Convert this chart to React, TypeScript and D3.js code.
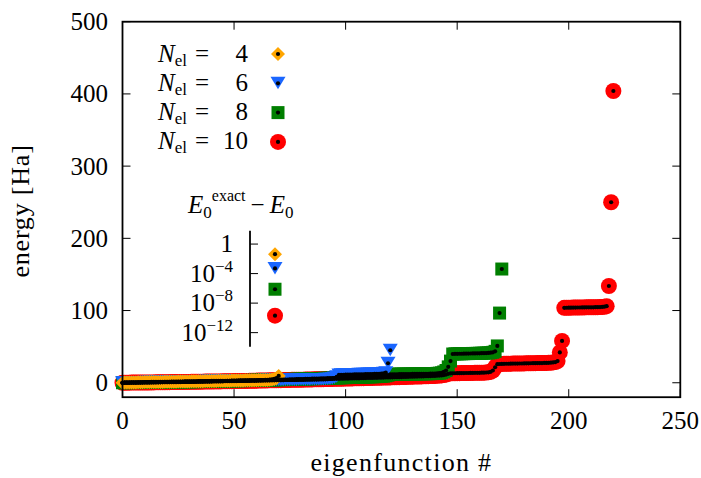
import React from "react";
import * as d3 from "d3";

// sorted eigenvalues (Ha) per electron count, index = eigenfunction #
const nel4 = [
  0.0, 0.2, 0.2, 0.2, 0.5, 0.5, 0.5, 0.7, 0.7, 0.7,
  0.9, 0.9, 0.9, 1.1, 1.1, 1.1, 1.2, 1.2, 1.2, 1.4,
  1.4, 1.4, 1.5, 1.5, 1.5, 1.7, 1.7, 1.7, 1.9, 1.9,
  1.9, 2.0, 2.0, 2.0, 2.2, 2.2, 2.2, 2.3, 2.3, 2.3,
  2.5, 2.5, 2.5, 2.7, 2.7, 2.7, 2.8, 2.8, 2.8, 3.0,
  3.0, 3.0, 3.2, 3.2, 3.2, 3.3, 3.3, 3.3, 3.5, 3.5,
  3.5, 3.7, 3.7, 3.7, 3.9, 3.9, 4.2, 4.6, 5.3, 6.4,
  9.5,
];
const nel6 = [
  0.0, 0.2, 0.2, 0.2, 0.3, 0.3, 0.3, 0.5, 0.5, 0.5,
  0.6, 0.6, 0.6, 0.8, 0.8, 0.8, 0.9, 0.9, 0.9, 1.1,
  1.1, 1.1, 1.2, 1.2, 1.2, 1.4, 1.4, 1.4, 1.5, 1.5,
  1.5, 1.7, 1.7, 1.7, 1.8, 1.8, 1.8, 2.0, 2.0, 2.0,
  2.1, 2.1, 2.1, 2.3, 2.3, 2.3, 2.4, 2.4, 2.4, 2.6,
  2.6, 2.6, 2.7, 2.7, 2.7, 2.9, 2.9, 2.9, 3.0, 3.0,
  3.0, 3.2, 3.2, 3.2, 3.3, 3.3, 3.3, 3.5, 3.5, 3.5,
  3.6, 3.6, 3.6, 3.8, 3.8, 3.8, 3.9, 3.9, 3.9, 4.1,
  4.1, 4.1, 4.2, 4.2, 4.2, 4.4, 4.4, 4.4, 4.5, 4.5,
  4.6, 4.8, 5.0, 5.3, 5.7, 6.5, 8.2, 10.9, 11.1, 11.1,
  11.2, 11.3, 11.4, 11.4, 11.5, 11.6, 11.7, 11.7, 11.8, 11.9,
  12.0, 12.0, 12.1, 12.2, 12.3, 12.5, 12.8, 13.2, 14.0, 27.0,
  45.0,
];
const nel8 = [
  0.0, 0.1, 0.1, 0.1, 0.2, 0.2, 0.2, 0.3, 0.3, 0.4,
  0.4, 0.4, 0.5, 0.5, 0.6, 0.6, 0.6, 0.7, 0.7, 0.8,
  0.8, 0.9, 0.9, 1.0, 1.0, 1.1, 1.1, 1.2, 1.3, 1.3,
  1.4, 1.4, 1.5, 1.5, 1.6, 1.7, 1.7, 1.8, 1.9, 1.9,
  2.0, 2.1, 2.1, 2.2, 2.3, 2.3, 2.4, 2.5, 2.5, 2.6,
  2.7, 2.7, 2.8, 2.9, 3.0, 3.0, 3.1, 3.2, 3.3, 3.3,
  3.4, 3.5, 3.6, 3.6, 3.7, 3.8, 3.9, 4.0, 4.0, 4.1,
  4.2, 4.3, 4.4, 4.4, 4.5, 4.6, 4.7, 4.8, 4.9, 5.0,
  5.1, 5.2, 5.3, 5.4, 5.5, 5.6, 5.7, 5.8, 5.9, 6.0,
  6.1, 6.2, 6.3, 6.4, 6.5, 6.6, 6.7, 6.8, 6.9, 7.0,
  7.1, 7.2, 7.3, 7.4, 7.5, 7.6, 7.7, 7.8, 7.9, 8.0,
  8.1, 8.2, 8.3, 8.4, 8.5, 8.7, 8.9, 9.2, 9.6, 10.5,
  11.6, 11.7, 11.8, 11.8, 11.9, 11.9, 12.0, 12.0, 12.1, 12.1,
  12.2, 12.2, 12.3, 12.3, 12.4, 12.4, 12.5, 12.5, 12.6, 12.7,
  12.8, 13.0, 13.3, 13.8, 15.0, 17.0, 22.0, 30.0, 39.8, 40.0,
  40.1, 40.2, 40.2, 40.3, 40.4, 40.4, 40.5, 40.6, 40.6, 40.7,
  40.8, 40.9, 41.0, 41.1, 41.3, 41.6, 42.2, 43.5, 51.0, 96.5,
  157.5,
];
const nel10 = [
  0.0, 0.1, 0.1, 0.1, 0.2, 0.2, 0.2, 0.3, 0.3, 0.3,
  0.4, 0.4, 0.4, 0.5, 0.5, 0.6, 0.6, 0.6, 0.7, 0.7,
  0.8, 0.8, 0.9, 0.9, 0.9, 1.0, 1.0, 1.1, 1.1, 1.2,
  1.2, 1.3, 1.3, 1.4, 1.4, 1.5, 1.5, 1.6, 1.6, 1.7,
  1.7, 1.8, 1.8, 1.9, 1.9, 2.0, 2.1, 2.1, 2.2, 2.2,
  2.3, 2.3, 2.4, 2.5, 2.5, 2.6, 2.6, 2.7, 2.8, 2.8,
  2.9, 3.0, 3.0, 3.1, 3.2, 3.2, 3.3, 3.4, 3.4, 3.5,
  3.6, 3.6, 3.7, 3.8, 3.8, 3.9, 4.0, 4.0, 4.1, 4.2,
  4.3, 4.3, 4.4, 4.5, 4.5, 4.6, 4.7, 4.8, 4.8, 4.9,
  5.0, 5.1, 5.1, 5.2, 5.3, 5.4, 5.4, 5.5, 5.6, 5.7,
  5.8, 5.8, 5.9, 6.0, 6.1, 6.2, 6.2, 6.3, 6.4, 6.5,
  6.6, 6.7, 6.7, 6.8, 6.9, 7.0, 7.1, 7.2, 7.3, 7.3,
  7.4, 7.5, 7.6, 7.7, 7.8, 7.9, 8.0, 8.1, 8.2, 8.3,
  8.4, 8.5, 8.6, 8.7, 8.8, 8.9, 9.0, 9.1, 9.2, 9.4,
  9.5, 9.7, 9.9, 10.2, 10.6, 11.3, 12.4, 13.0, 13.1, 13.2,
  13.3, 13.3, 13.4, 13.4, 13.5, 13.5, 13.6, 13.6, 13.7, 13.7,
  13.8, 13.9, 14.0, 14.2, 14.5, 15.2, 17.0, 21.5, 25.8, 26.0,
  26.1, 26.2, 26.3, 26.3, 26.4, 26.5, 26.5, 26.6, 26.7, 26.7,
  26.8, 26.9, 26.9, 27.0, 27.1, 27.1, 27.2, 27.3, 27.3, 27.4,
  27.5, 27.6, 27.8, 28.1, 28.7, 30.0, 42.0, 58.0, 103.8, 103.9,
  104.0, 104.0, 104.1, 104.1, 104.2, 104.2, 104.3, 104.3, 104.4, 104.4,
  104.5, 104.5, 104.6, 104.7, 104.8, 105.0, 105.3, 106.0, 134.0, 250.0,
  404.0,
];

const electronCounts = [4, 6, 8, 10];
// ground state error E0exact - E0 for each electron count
const insetErrors = [0.043, 5e-4, 7.6e-7, 2e-10];

const xTicks = [0, 50, 100, 150, 200, 250];
const yTicks = [0, 100, 200, 300, 400, 500];
const insetTicks = [1, 1e-4, 1e-8, 1e-12];
const insetTickLabels = [["1", ""], ["10", "−4"], ["10", "−8"], ["10", "−12"]];

const series = [
  { n: 4, values: nel4, color: "#ffa500", shape: "diamond" },
  { n: 6, values: nel6, color: "#1a66ff", shape: "triangle" },
  { n: 8, values: nel8, color: "#007f00", shape: "square" },
  { n: 10, values: nel10, color: "#ff0000", shape: "circle" },
];

const W = 701;
const H = 478;
const font = "'Liberation Serif', 'Times New Roman', serif";
const fs = 25;

const Marker = ({ shape, x, y, color }) => {
  if (shape === "circle") return <circle cx={x} cy={y} r={8} fill={color} />;
  let d = "";
  if (shape === "diamond") d = `M${x},${y - 7}L${x + 7},${y}L${x},${y + 7}L${x - 7},${y}Z`;
  if (shape === "triangle") d = `M${x - 7.5},${y - 6.5}L${x + 7.5},${y - 6.5}L${x},${y + 6}Z`;
  if (shape === "square") d = `M${x - 6.5},${y - 6.5}h13v13h-13Z`;
  return <path d={d} fill={color} />;
};

const Chart = () => {
  const x = d3.scaleLinear().domain([0, 250]).range([122.5, 680.3]);
  const y = d3.scaleLinear().domain([-20, 500]).range([397.2, 21.7]);
  const yIn = d3.scaleLog().domain([1e-14, 1e2]).range([347.4, 229.3]);
  const tickLen = 8;

  // draw order: N=10 first, N=4 on top, black dots last
  const drawOrder = [...series].reverse();

  return (
    <svg width={W} height={H} style={{ position: "absolute", left: 0, top: 0 }} fontFamily={font}>
      <rect width={W} height={H} fill="white" />

      {/* colored markers */}
      {drawOrder.map((s) => (
        <g key={s.n}>
          {s.values.map((v, i) => (
            <Marker key={i} shape={s.shape} x={x(i)} y={y(v)} color={s.color} />
          ))}
        </g>
      ))}
      {/* black center dots */}
      {drawOrder.map((s) => (
        <g key={"d" + s.n}>
          {s.values.map((v, i) => (
            <circle key={i} cx={x(i)} cy={y(v)} r={2.1} fill="black" />
          ))}
        </g>
      ))}

      {/* frame */}
      <rect x={x(0)} y={y(500)} width={x(250) - x(0)} height={y(-20) - y(500)} fill="none" stroke="black" strokeWidth={1.8} />
      {xTicks.map((t) => (
        <g key={t}>
          <line x1={x(t)} x2={x(t)} y1={y(-20)} y2={y(-20) - tickLen} stroke="black" strokeWidth={1} />
          <line x1={x(t)} x2={x(t)} y1={y(500)} y2={y(500) + tickLen} stroke="black" strokeWidth={1} />
          <text x={x(t)} y={429} textAnchor="middle" fontSize={fs}>{t}</text>
        </g>
      ))}
      {yTicks.map((t) => (
        <g key={t}>
          <line x1={x(0)} x2={x(0) + tickLen} y1={y(t)} y2={y(t)} stroke="black" strokeWidth={1} />
          <line x1={x(250)} x2={x(250) - tickLen} y1={y(t)} y2={y(t)} stroke="black" strokeWidth={1} />
          <text x={108} y={y(t) + 8.5} textAnchor="end" fontSize={fs}>{t}</text>
        </g>
      ))}

      {/* axis titles */}
      <text transform="translate(29,211) rotate(-90)" textAnchor="middle" fontSize={26} letterSpacing={0.8}>energy [Ha]</text>
      <text x={(x(0) + x(250)) / 2} y={471} textAnchor="middle" fontSize={26} letterSpacing={1.3}>eigenfunction #</text>

      {/* legend */}
      {series.map((s, i) => {
        const by = 61.5 + i * 29.3;
        return (
          <g key={"l" + s.n}>
            <text x={158} y={by} fontSize={fs}>
              <tspan fontStyle="italic">N</tspan>
              <tspan fontSize={17} dy={4}>el</tspan>
            </text>
            <text x={195} y={by} fontSize={fs}>=</text>
            <text x={248} y={by} textAnchor="end" fontSize={fs}>{electronCounts[i]}</text>
            <Marker shape={s.shape} x={278} y={by - 7.5} color={s.color} />
            <circle cx={278} cy={by - 7.5} r={2.1} fill="black" />
          </g>
        );
      })}

      {/* inset: ground state error */}
      <text x={188} y={213} fontSize={fs}>
        <tspan fontStyle="italic">E</tspan>
        <tspan fontSize={17} dy={5}>0</tspan>
        <tspan fontSize={16} dx={0} dy={-17}>exact</tspan>
        <tspan dy={12} dx={5}>−</tspan>
        <tspan fontStyle="italic" dx={5}>E</tspan>
        <tspan fontSize={17} dy={5}>0</tspan>
      </text>
      <line x1={250} x2={250} y1={yIn.range()[1] + 1.4} y2={yIn.range()[0] - 0.7} stroke="black" strokeWidth={1.8} />
      {insetTicks.map((t, i) => (
        <g key={"it" + i}>
          <line x1={250} x2={250 + tickLen} y1={yIn(t)} y2={yIn(t)} stroke="black" strokeWidth={1} />
          <text x={233} y={yIn(t) + 8} textAnchor="end" fontSize={fs}>
            {insetTickLabels[i][0]}
            {insetTickLabels[i][1] && (
              <tspan fontSize={17} dy={-10}>{insetTickLabels[i][1]}</tspan>
            )}
          </text>
        </g>
      ))}
      {series.map((s, i) => (
        <g key={"im" + s.n}>
          <Marker shape={s.shape} x={275} y={yIn(insetErrors[i])} color={s.color} />
          <circle cx={275} cy={yIn(insetErrors[i])} r={2.1} fill="black" />
        </g>
      ))}
    </svg>
  );
};

export default function App() {
  return <Chart />;
}
